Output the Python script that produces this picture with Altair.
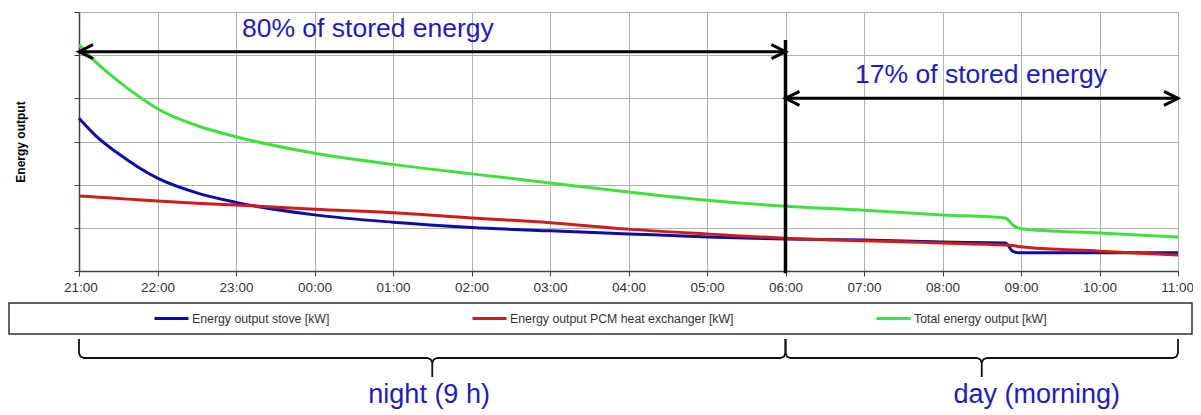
import altair as alt
import pandas as pd

# ---- data (hours after 21:00, relative energy output) ----
hours = [0, 0.25, 0.5, 0.75, 1, 1.5, 2, 3, 4, 5, 6, 7, 8, 9, 10, 11, 11.8, 11.9, 12, 13, 14]
stove = [3.54, 3.07, 2.72, 2.41, 2.15, 1.81, 1.59, 1.30, 1.13, 1.01, 0.93, 0.86, 0.79, 0.74,
         0.72, 0.67, 0.65, 0.45, 0.42, 0.42, 0.42]
pcm = [1.74, 1.71, 1.68, 1.65, 1.62, 1.57, 1.53, 1.43, 1.35, 1.23, 1.12, 0.97, 0.86, 0.76,
       0.70, 0.65, 0.60, 0.59, 0.56, 0.46, 0.37]
total = [5.24, 4.78, 4.40, 4.06, 3.76, 3.37, 3.11, 2.73, 2.47, 2.25, 2.04, 1.83, 1.64, 1.50,
         1.41, 1.30, 1.23, 1.06, 0.98, 0.88, 0.79]
series_names = ["Energy output stove [kW]",
                "Energy output PCM heat exchanger [kW]",
                "Total energy output  [kW]"]
series_colors = ["#0c0ca8", "#cc1c1c", "#40e040"]
tick_labels = ["21:00", "22:00", "23:00", "00:00", "01:00", "02:00", "03:00", "04:00",
               "05:00", "06:00", "07:00", "08:00", "09:00", "10:00", "11:00"]
tick_values = list(range(len(tick_labels)))
annotation_texts = ["80% of stored energy", "17% of stored energy", "night (9 h)", "day (morning)"]
period_spans = [(0, 9), (9, 14)]  # night, day in hours after 21:00

rows = []
for name, vals in zip(series_names, [stove, pcm, total]):
    for h, v in zip(hours, vals):
        rows.append({"hour": h, "value": v, "series": name})
df = pd.DataFrame(rows)

FONT = "Liberation Sans"
BLUE_TXT = "#1c1cc0"
label_expr = "[" + ",".join("'%s'" % t for t in tick_labels) + "][datum.value]"

xscale = alt.Scale(domain=[0, 14], nice=False, zero=False)
yscale = alt.Scale(domain=[0, 6], nice=False, zero=False)

lines = alt.Chart(df).mark_line(strokeWidth=3, interpolate="monotone").encode(
    x=alt.X("hour:Q", scale=xscale,
            axis=alt.Axis(values=tick_values, labelExpr=label_expr, title=None,
                          grid=True, tickSize=5, labelPadding=4, labelFontSize=13.5,
                          labelFlush=True, labelFlushOffset=15.5, labelBound=False,
                          labelOverlap=False,
                          labelColor="#333333", labelFont=FONT, domainWidth=1.5)),
    y=alt.Y("value:Q", scale=yscale,
            axis=alt.Axis(values=[0, 1, 2, 3, 4, 5, 6], labels=False, grid=True, tickSize=5,
                          title="Energy output", titleFont=FONT, titleFontSize=12,
                          titleFontWeight="bold", titleColor="#000000", titleAngle=270,
                          titleX=-59, titleY=129.5, titleAlign="center",
                          titleBaseline="middle", domainWidth=1.5)),
    color=alt.Color("series:N",
                    scale=alt.Scale(domain=series_names, range=series_colors),
                    legend=alt.Legend(title=None, orient="none", legendX=74, legendY=288,
                                      direction="horizontal", symbolType="stroke",
                                      symbolSize=1156, symbolStrokeWidth=3,
                                      labelFont=FONT, labelFontSize=12.3, labelLimit=500,
                                      labelColor="#333333", labelOffset=2,
                                      columnPadding=136, padding=0)),
)

# legend frame
legend_box = alt.Chart(pd.DataFrame({"k": [0]})).mark_rect(
    fill="white", stroke="#303030", strokeWidth=1.5
).encode(x=alt.value(-70), x2=alt.value(1113), y=alt.value(291), y2=alt.value(322))

# double arrows and 06:00 divider
arrow_df = pd.DataFrame({"x": [period_spans[0][0], period_spans[1][0]],
                         "x2": [period_spans[0][1], period_spans[1][1]],
                         "y": [5.08, 4.0]})
arrow_lines = alt.Chart(arrow_df).mark_rule(strokeWidth=3, color="black").encode(
    x="x:Q", x2="x2:Q", y="y:Q")
left_heads = alt.Chart(arrow_df).mark_point(
    shape="M 2 -1 L 0 0 L 2 1", size=196, filled=False, stroke="black", strokeWidth=3,
    opacity=1).encode(x="x:Q", y="y:Q")
right_heads = alt.Chart(arrow_df).mark_point(
    shape="M -2 -1 L 0 0 L -2 1", size=196, filled=False, stroke="black", strokeWidth=3,
    opacity=1).encode(x="x2:Q", y="y:Q")
divider = alt.Chart(pd.DataFrame({"x": [period_spans[0][1]], "y": [-0.05], "y2": [5.35]})
                    ).mark_rule(strokeWidth=3.5, color="black").encode(
    x="x:Q", y="y:Q", y2="y2:Q")

# braces below the legend
top, mid, bot = -1.575, -2.015, -2.455
dx, dy = 0.064, 0.116
brace_rows = []
for b, (s, e) in enumerate(period_spans):
    t = (s + e) / 2
    pts = [(s, top), (s, mid + dy), (s + 0.019, mid + 0.034), (s + dx, mid),
           (t - dx, mid), (t - 0.019, mid - 0.034), (t, mid - dy), (t, bot),
           (t, mid - dy), (t + 0.019, mid - 0.034), (t + dx, mid),
           (e - dx, mid), (e - 0.019, mid + 0.034), (e, mid + dy), (e, top)]
    for i, (px, py) in enumerate(pts):
        brace_rows.append({"brace": b, "i": i, "x": px, "y": py})
braces = alt.Chart(pd.DataFrame(brace_rows)).mark_line(
    color="#111111", strokeWidth=1.8).encode(
    x="x:Q", y="y:Q", detail="brace:N", order="i:Q")

# texts
text_df = pd.DataFrame({"text": annotation_texts,
                        "x": [3.68, 11.49, 4.46, 12.2],
                        "y": [5.42, 4.36, -3.06, -3.06],
                        "size": [26.5, 26.5, 27, 27]})
texts = alt.Chart(text_df).mark_text(
    font=FONT, color=BLUE_TXT, align="center", baseline="alphabetic").encode(
    x="x:Q", y="y:Q", text="text:N", size=alt.Size("size:Q", scale=None, legend=None))

chart = alt.layer(
    legend_box, lines, braces, arrow_lines, left_heads, right_heads, divider, texts
).properties(
    width=1099, height=259,
    padding={"left": 71, "top": 4, "right": 15, "bottom": 139},
    autosize=alt.AutoSizeParams(type="none"),
    background="white",
).configure_view(strokeWidth=0).configure_axis(
    gridColor="#b0b0b0", gridWidth=1, domainColor="#404040", tickColor="#404040"
)

chart.save("out.html", embed_options={"renderer": "svg", "actions": False})
